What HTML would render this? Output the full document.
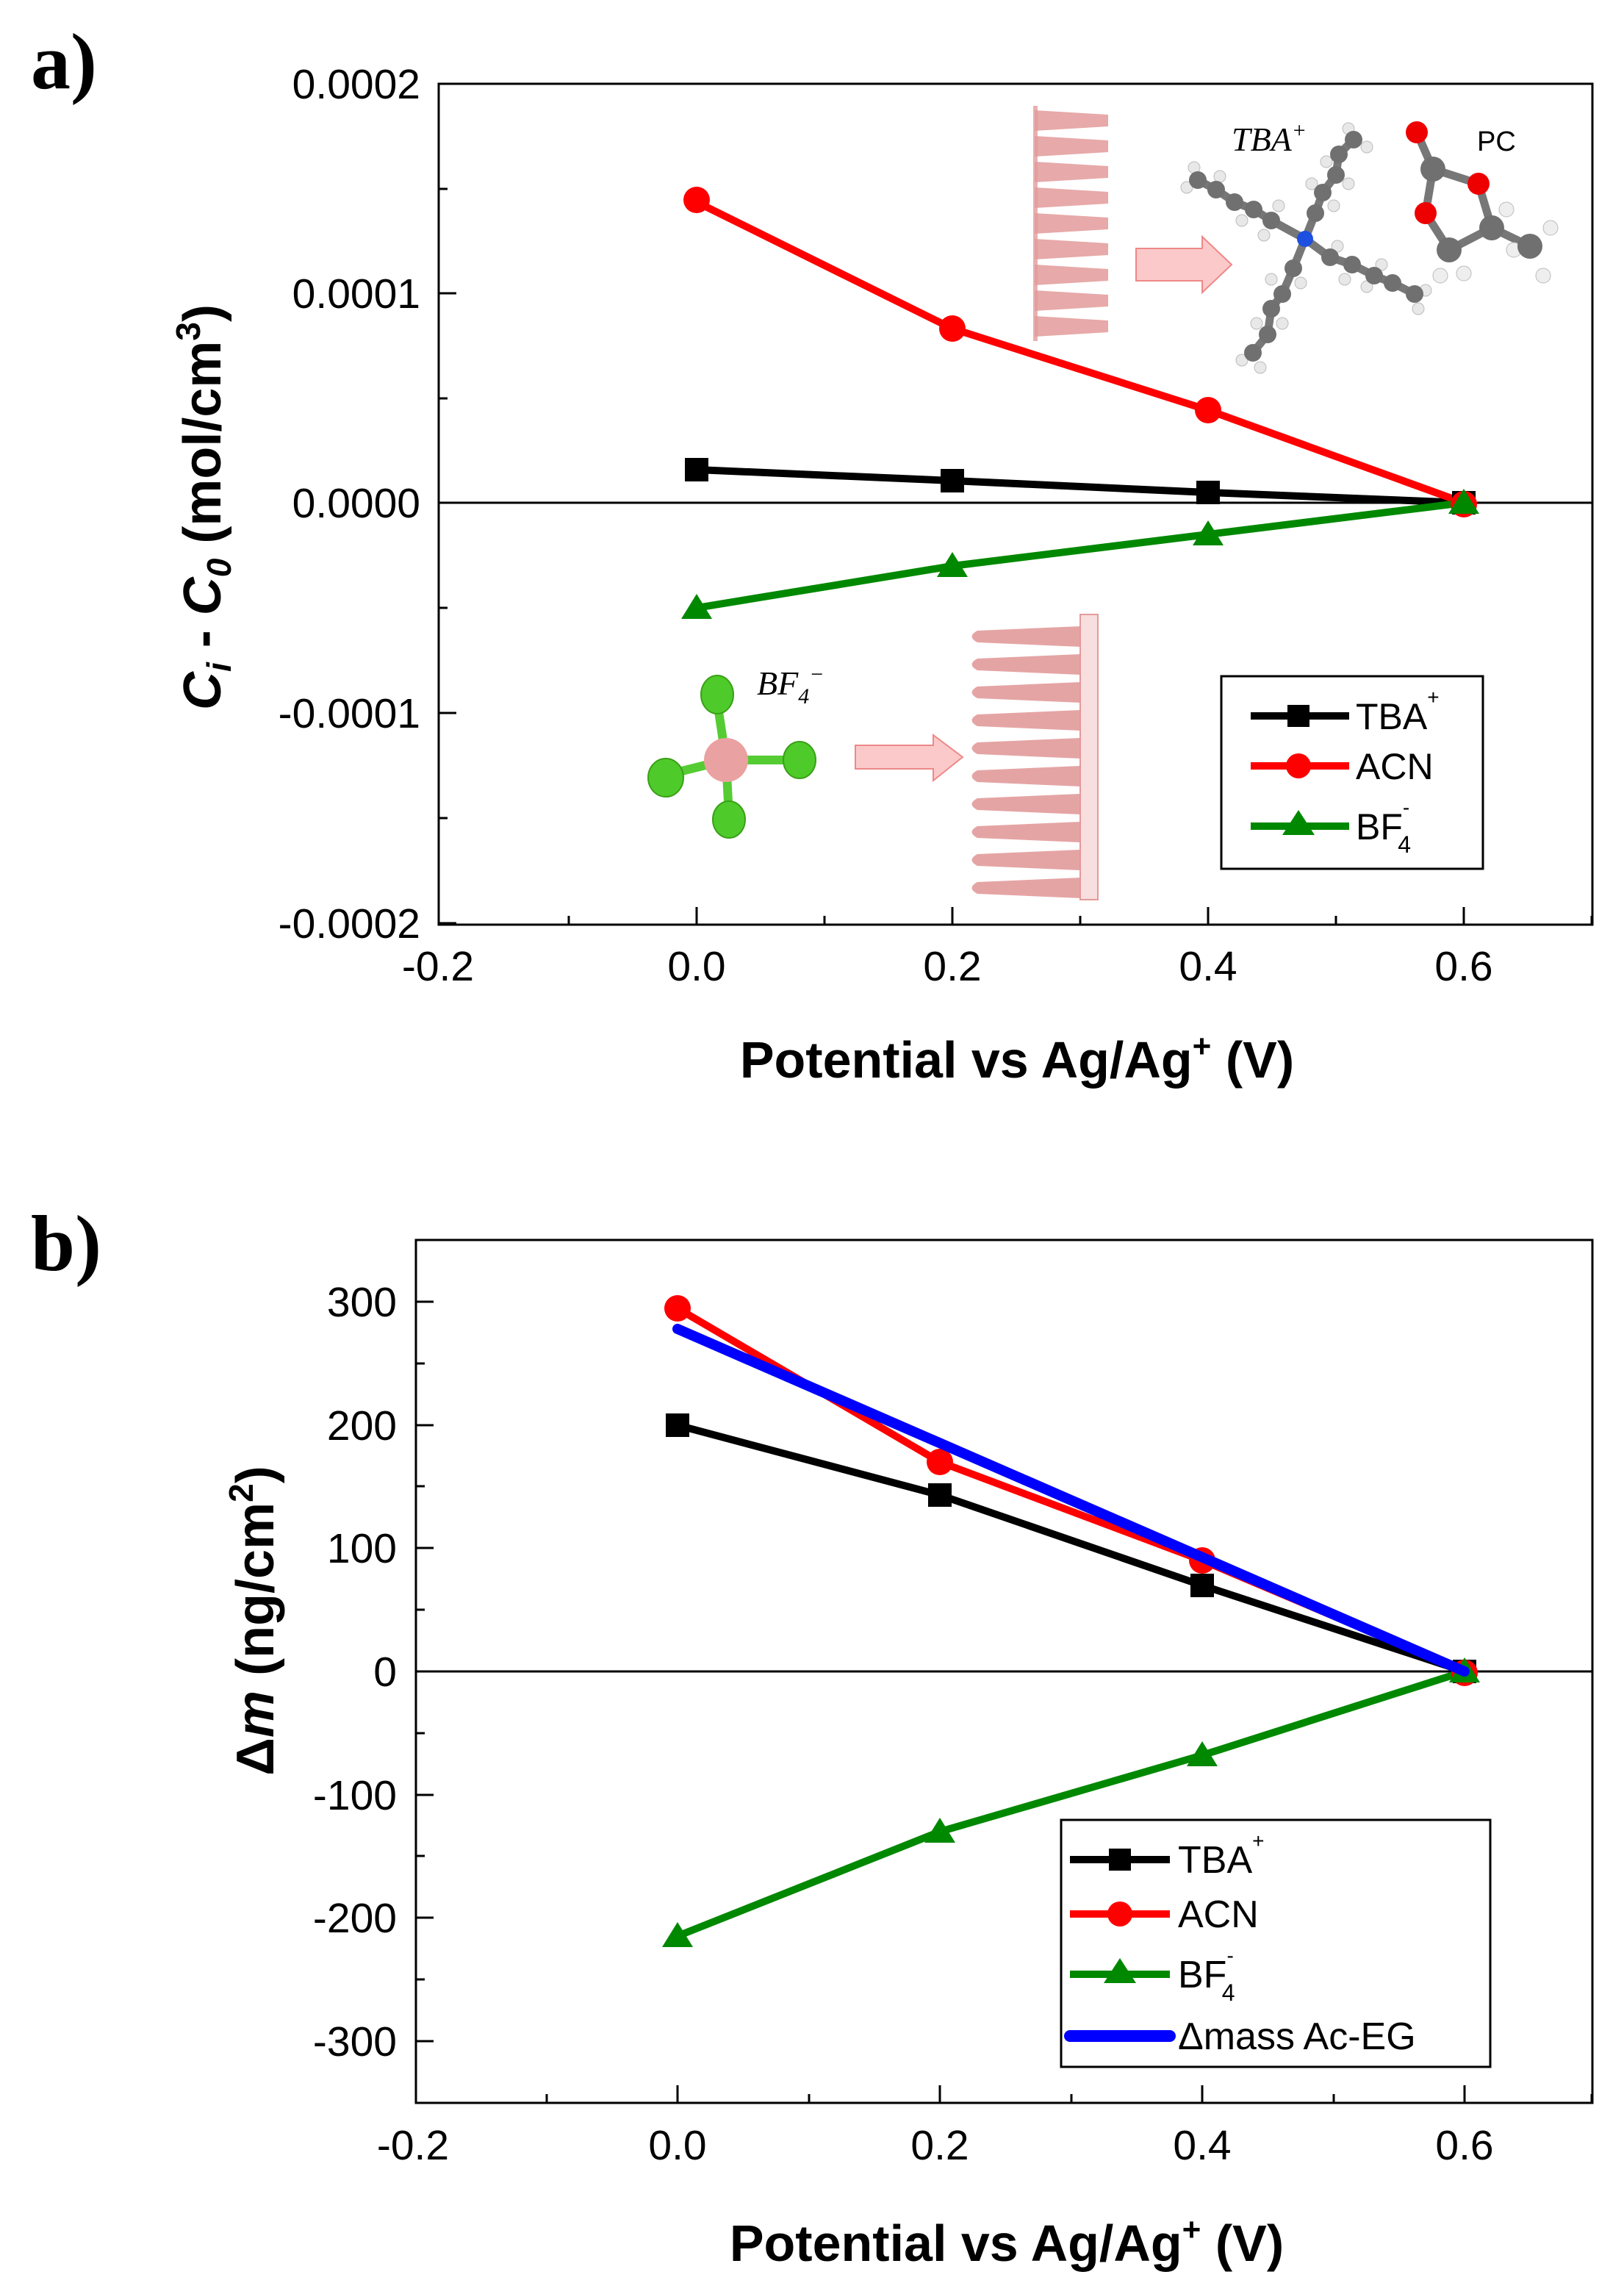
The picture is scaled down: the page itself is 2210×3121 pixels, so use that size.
<!DOCTYPE html>
<html><head><meta charset="utf-8"><style>
html,body{margin:0;padding:0;background:#fff}
svg{display:block}
text{font-family:"Liberation Sans",Arial,sans-serif}
text.serif{font-family:"Liberation Serif","Times New Roman",serif}
</style></head><body>
<svg width="2210" height="3121" viewBox="0 0 2210 3121" xmlns="http://www.w3.org/2000/svg">
<!-- ============ PANEL A ============ -->
<text class="serif" x="42" y="120" font-weight="bold" font-size="108">a)</text>
<rect x="1406" y="144" width="6" height="320" fill="#e9b0b0"/>
<g fill="#e39b9b" opacity="0.85">
  <path d="M1408 150 L1508 156 L1508 172 L1408 178Z"/>
  <path d="M1408 185 L1508 191 L1508 207 L1408 213Z"/>
  <path d="M1408 220 L1508 226 L1508 242 L1408 248Z"/>
  <path d="M1408 255 L1508 261 L1508 277 L1408 283Z"/>
  <path d="M1408 290 L1508 296 L1508 312 L1408 318Z"/>
  <path d="M1408 325 L1508 331 L1508 347 L1408 353Z"/>
  <path d="M1408 360 L1508 366 L1508 382 L1408 388Z"/>
  <path d="M1408 395 L1508 401 L1508 417 L1408 423Z"/>
  <path d="M1408 430 L1508 436 L1508 452 L1408 458Z"/>
</g>
<path d="M1546 338 L1636 338 L1636 322 L1676 360 L1636 398 L1636 382 L1546 382Z" fill="#fbc9c9" stroke="#e88" stroke-width="2"/>
<text class="serif" x="1676" y="205" font-style="italic" font-size="46">TBA<tspan font-size="30" dy="-18">+</tspan></text>
<text x="2010" y="205" font-size="38">PC</text>
<!-- TBA molecule -->
<g stroke="#777" stroke-width="11" fill="none" stroke-linecap="round">
  <polyline points="1776,325 1730,300 1706,285 1680,275 1655,258 1630,245"/>
  <polyline points="1776,325 1790,290 1800,262 1818,238 1822,210 1842,190"/>
  <polyline points="1776,325 1810,350 1840,360 1870,375 1895,385 1925,400"/>
  <polyline points="1776,325 1760,365 1745,400 1730,420 1725,455 1705,480"/>
</g>
<g fill="#e8e8e8" stroke="#bbb" stroke-width="1">
  <circle cx="1625" cy="228" r="8"/><circle cx="1615" cy="255" r="8"/><circle cx="1660" cy="240" r="8"/><circle cx="1690" cy="300" r="8"/><circle cx="1720" cy="320" r="8"/><circle cx="1740" cy="280" r="8"/>
  <circle cx="1835" cy="175" r="8"/><circle cx="1860" cy="200" r="8"/><circle cx="1805" cy="220" r="8"/><circle cx="1835" cy="250" r="8"/><circle cx="1785" cy="250" r="8"/><circle cx="1815" cy="280" r="8"/>
  <circle cx="1940" cy="395" r="8"/><circle cx="1930" cy="420" r="8"/><circle cx="1880" cy="360" r="8"/><circle cx="1860" cy="390" r="8"/><circle cx="1830" cy="380" r="8"/><circle cx="1820" cy="335" r="8"/>
  <circle cx="1690" cy="490" r="8"/><circle cx="1715" cy="500" r="8"/><circle cx="1710" cy="440" r="8"/><circle cx="1745" cy="440" r="8"/><circle cx="1770" cy="385" r="8"/><circle cx="1730" cy="380" r="8"/>
</g>
<g fill="#707070">
  <circle cx="1730" cy="300" r="12"/><circle cx="1706" cy="285" r="12"/><circle cx="1680" cy="275" r="12"/><circle cx="1655" cy="258" r="12"/><circle cx="1630" cy="245" r="12"/>
  <circle cx="1790" cy="290" r="12"/><circle cx="1800" cy="262" r="12"/><circle cx="1818" cy="238" r="12"/><circle cx="1822" cy="210" r="12"/><circle cx="1842" cy="190" r="12"/>
  <circle cx="1810" cy="350" r="12"/><circle cx="1840" cy="360" r="12"/><circle cx="1870" cy="375" r="12"/><circle cx="1895" cy="385" r="12"/><circle cx="1925" cy="400" r="12"/>
  <circle cx="1760" cy="365" r="12"/><circle cx="1745" cy="400" r="12"/><circle cx="1730" cy="420" r="12"/><circle cx="1725" cy="455" r="12"/><circle cx="1705" cy="480" r="12"/>
</g>
<circle cx="1776" cy="325" r="11" fill="#1d4fe0"/>
<!-- PC -->
<g stroke="#777" stroke-width="11" fill="none">
  <line x1="1928" y1="180" x2="1950" y2="230"/><line x1="1950" y1="230" x2="2012" y2="250"/><line x1="1950" y1="230" x2="1940" y2="290"/>
  <line x1="2012" y1="250" x2="2030" y2="310"/><line x1="1940" y1="290" x2="1972" y2="340"/><line x1="1972" y1="340" x2="2030" y2="310"/><line x1="2030" y1="310" x2="2082" y2="335"/>
</g>
<g fill="#eee" stroke="#bbb"><circle cx="1960" cy="375" r="10"/><circle cx="1992" cy="372" r="10"/><circle cx="2050" cy="285" r="10"/><circle cx="2110" cy="310" r="10"/><circle cx="2100" cy="375" r="10"/><circle cx="2060" cy="340" r="10"/></g>
<g fill="#707070"><circle cx="1950" cy="230" r="17"/><circle cx="1972" cy="340" r="17"/><circle cx="2030" cy="310" r="17"/><circle cx="2082" cy="335" r="17"/></g>
<g fill="#e00"><circle cx="1928" cy="180" r="15"/><circle cx="2012" cy="250" r="15"/><circle cx="1940" cy="290" r="15"/></g>
<!-- BF4 bottom -->
<text class="serif" x="1030" y="945" font-style="italic" font-size="46">BF<tspan font-size="30" dy="12">4</tspan><tspan font-size="30" dy="-30">−</tspan></text>
<g stroke="#55cc33" stroke-width="12"><line x1="976" y1="955" x2="988" y2="1034"/><line x1="908" y1="1054" x2="988" y2="1034"/><line x1="1088" y1="1034" x2="988" y2="1034"/><line x1="992" y1="1110" x2="988" y2="1034"/></g>
<circle cx="988" cy="1034" r="30" fill="#eaa1a1"/>
<g fill="#4ecb2a" stroke="#3aa018" stroke-width="2"><ellipse cx="976" cy="945" rx="22" ry="26"/><ellipse cx="906" cy="1058" rx="24" ry="26"/><ellipse cx="1088" cy="1034" rx="22" ry="25"/><ellipse cx="992" cy="1115" rx="22" ry="25"/></g>
<path d="M1164 1014 L1270 1014 L1270 1000 L1310 1030 L1270 1062 L1270 1046 L1164 1046Z" fill="#fbc9c9" stroke="#e88" stroke-width="2"/>
<rect x="1470" y="836" width="24" height="388" fill="#f8dede" stroke="#e49a9a" stroke-width="2"/>
<g fill="#e39b9b" opacity="0.9">
  <path d="M1470 852 L1330 858 Q1315 866 1330 874 L1470 880Z"/>
  <path d="M1470 890 L1330 896 Q1315 904 1330 912 L1470 918Z"/>
  <path d="M1470 928 L1330 934 Q1315 942 1330 950 L1470 956Z"/>
  <path d="M1470 966 L1330 972 Q1315 980 1330 988 L1470 994Z"/>
  <path d="M1470 1004 L1330 1010 Q1315 1018 1330 1026 L1470 1032Z"/>
  <path d="M1470 1042 L1330 1048 Q1315 1056 1330 1064 L1470 1070Z"/>
  <path d="M1470 1080 L1330 1086 Q1315 1094 1330 1102 L1470 1108Z"/>
  <path d="M1470 1118 L1330 1124 Q1315 1132 1330 1140 L1470 1146Z"/>
  <path d="M1470 1156 L1330 1162 Q1315 1170 1330 1178 L1470 1184Z"/>
  <path d="M1470 1194 L1330 1200 Q1315 1208 1330 1216 L1470 1222Z"/>
</g>
<!-- axes a -->
<rect x="597" y="114" width="1570" height="1144" fill="none" stroke="#000" stroke-width="3"/>
<line x1="597" y1="684" x2="2167" y2="684" stroke="#000" stroke-width="3"/>
<g stroke="#000" stroke-width="3">
  <line x1="597" y1="114" x2="621" y2="114"/><line x1="597" y1="399" x2="621" y2="399"/><line x1="597" y1="970" x2="621" y2="970"/><line x1="597" y1="1256" x2="621" y2="1256"/>
  <line x1="597" y1="257" x2="609" y2="257"/><line x1="597" y1="542" x2="609" y2="542"/><line x1="597" y1="827" x2="609" y2="827"/><line x1="597" y1="1113" x2="609" y2="1113"/>
  <line x1="948" y1="1258" x2="948" y2="1234"/><line x1="1296" y1="1258" x2="1296" y2="1234"/><line x1="1644" y1="1258" x2="1644" y2="1234"/><line x1="1992" y1="1258" x2="1992" y2="1234"/>
  <line x1="774" y1="1258" x2="774" y2="1246"/><line x1="1122" y1="1258" x2="1122" y2="1246"/><line x1="1470" y1="1258" x2="1470" y2="1246"/><line x1="1818" y1="1258" x2="1818" y2="1246"/><line x1="2166" y1="1258" x2="2166" y2="1246"/>
</g>
<g font-size="57" text-anchor="end">
  <text x="572" y="134">0.0002</text><text x="572" y="419">0.0001</text><text x="572" y="704">0.0000</text><text x="572" y="990">-0.0001</text><text x="572" y="1276">-0.0002</text>
</g>
<g font-size="57" text-anchor="middle">
  <text x="596" y="1334">-0.2</text><text x="948" y="1334">0.0</text><text x="1296" y="1334">0.2</text><text x="1644" y="1334">0.4</text><text x="1992" y="1334">0.6</text>
</g>
<text x="1384" y="1466" font-size="70" font-weight="bold" text-anchor="middle">Potential vs Ag/Ag<tspan font-size="44" dy="-28">+</tspan><tspan dy="28"> (V)</tspan></text>
<text transform="translate(300,690) rotate(-90)" font-size="72" font-weight="bold" text-anchor="middle"><tspan font-style="italic">C</tspan><tspan font-style="italic" font-size="46" dy="14">i</tspan><tspan dy="-14"> - </tspan><tspan font-style="italic">C</tspan><tspan font-style="italic" font-size="46" dy="14">0</tspan><tspan dy="-14"> (mol/cm</tspan><tspan font-size="46" dy="-28">3</tspan><tspan dy="28">)</tspan></text>
<!-- series a -->
<polyline points="948,639 1296,654 1644,670 1992,684" fill="none" stroke="#000" stroke-width="10"/>
<polyline points="948,275 1296,447 1644,558 1992,684" fill="none" stroke="#f00" stroke-width="10"/>
<polyline points="948,827 1296,770 1644,727 1992,684" fill="none" stroke="#080" stroke-width="10"/>
<g fill="#000"><rect x="932" y="623" width="32" height="32"/><rect x="1280" y="638" width="32" height="32"/><rect x="1628" y="654" width="32" height="32"/><rect x="1976" y="668" width="32" height="32"/></g>
<g fill="#f00"><circle cx="948" cy="272" r="18"/><circle cx="1296" cy="447" r="18"/><circle cx="1644" cy="558" r="18"/><circle cx="1992" cy="686" r="18"/></g>
<g fill="#080"><path d="M948 808 L969 842 L927 842Z"/><path d="M1296 751 L1317 785 L1275 785Z"/><path d="M1644 708 L1665 742 L1623 742Z"/><path d="M1992 665 L2013 699 L1971 699Z"/></g>
<!-- legend a -->
<rect x="1662" y="920" width="356" height="262" fill="#fff" stroke="#000" stroke-width="3"/>
<line x1="1702" y1="974" x2="1836" y2="974" stroke="#000" stroke-width="10"/><rect x="1752" y="959" width="30" height="30"/>
<line x1="1702" y1="1042" x2="1836" y2="1042" stroke="#f00" stroke-width="10"/><circle cx="1767" cy="1042" r="17" fill="#f00"/>
<line x1="1702" y1="1124" x2="1836" y2="1124" stroke="#080" stroke-width="10"/><path d="M1767 1102 L1789 1136 L1745 1136Z" fill="#080"/>
<g font-size="50"><text x="1845" y="992">TBA<tspan font-size="28" dy="-34">+</tspan></text><text x="1845" y="1060">ACN</text><text x="1845" y="1142">BF<tspan font-size="28" dy="-34">-</tspan><tspan font-size="32" dx="-16" dy="52">4</tspan></text></g>

<!-- ============ PANEL B ============ -->
<text class="serif" x="42" y="1728" font-weight="bold" font-size="108">b)</text>
<rect x="566" y="1687" width="1601" height="1174" fill="none" stroke="#000" stroke-width="3"/>
<line x1="566" y1="2274" x2="2167" y2="2274" stroke="#000" stroke-width="3"/>
<g stroke="#000" stroke-width="3">
  <line x1="566" y1="1771" x2="590" y2="1771"/><line x1="566" y1="1939" x2="590" y2="1939"/><line x1="566" y1="2106" x2="590" y2="2106"/><line x1="566" y1="2442" x2="590" y2="2442"/><line x1="566" y1="2609" x2="590" y2="2609"/><line x1="566" y1="2777" x2="590" y2="2777"/>
  <line x1="566" y1="1855" x2="578" y2="1855"/><line x1="566" y1="2022" x2="578" y2="2022"/><line x1="566" y1="2190" x2="578" y2="2190"/><line x1="566" y1="2358" x2="578" y2="2358"/><line x1="566" y1="2525" x2="578" y2="2525"/><line x1="566" y1="2693" x2="578" y2="2693"/>
  <line x1="922" y1="2861" x2="922" y2="2837"/><line x1="1279" y1="2861" x2="1279" y2="2837"/><line x1="1636" y1="2861" x2="1636" y2="2837"/><line x1="1993" y1="2861" x2="1993" y2="2837"/>
  <line x1="744" y1="2861" x2="744" y2="2849"/><line x1="1101" y1="2861" x2="1101" y2="2849"/><line x1="1458" y1="2861" x2="1458" y2="2849"/><line x1="1815" y1="2861" x2="1815" y2="2849"/><line x1="2166" y1="2861" x2="2166" y2="2849"/>
</g>
<g font-size="57" text-anchor="end">
  <text x="540" y="1791">300</text><text x="540" y="1959">200</text><text x="540" y="2126">100</text><text x="540" y="2294">0</text><text x="540" y="2462">-100</text><text x="540" y="2629">-200</text><text x="540" y="2797">-300</text>
</g>
<g font-size="57" text-anchor="middle">
  <text x="562" y="2938">-0.2</text><text x="922" y="2938">0.0</text><text x="1279" y="2938">0.2</text><text x="1636" y="2938">0.4</text><text x="1993" y="2938">0.6</text>
</g>
<text x="1370" y="3076" font-size="70" font-weight="bold" text-anchor="middle">Potential vs Ag/Ag<tspan font-size="44" dy="-28">+</tspan><tspan dy="28"> (V)</tspan></text>
<text transform="translate(372,2205) rotate(-90)" font-size="72" font-weight="bold" text-anchor="middle">Δ<tspan font-style="italic">m</tspan> (ng/cm<tspan font-size="46" dy="-28">2</tspan><tspan dy="28">)</tspan></text>
<!-- series b -->
<polyline points="922,1939 1279,2034 1636,2157 1993,2274" fill="none" stroke="#000" stroke-width="10"/>
<polyline points="922,1780 1279,1989 1636,2123 1993,2274" fill="none" stroke="#f00" stroke-width="10"/>
<polyline points="922,2634 1279,2492 1636,2388 1993,2274" fill="none" stroke="#080" stroke-width="10"/>
<g fill="#000"><rect x="906" y="1923" width="32" height="32"/><rect x="1263" y="2018" width="32" height="32"/><rect x="1620" y="2141" width="32" height="32"/><rect x="1977" y="2258" width="32" height="32"/></g>
<g fill="#f00"><circle cx="922" cy="1780" r="18"/><circle cx="1279" cy="1989" r="18"/><circle cx="1636" cy="2123" r="18"/><circle cx="1993" cy="2276" r="18"/></g>
<g fill="#080"><path d="M922 2615 L943 2649 L901 2649Z"/><path d="M1279 2473 L1300 2507 L1258 2507Z"/><path d="M1636 2369 L1657 2403 L1615 2403Z"/><path d="M1993 2255 L2014 2289 L1972 2289Z"/></g>
<line x1="922" y1="1808" x2="1993" y2="2274" stroke="#00f" stroke-width="14" stroke-linecap="round"/>
<!-- legend b -->
<rect x="1444" y="2476" width="584" height="336" fill="#fff" stroke="#000" stroke-width="3"/>
<line x1="1456" y1="2530" x2="1592" y2="2530" stroke="#000" stroke-width="10"/><rect x="1509" y="2515" width="30" height="30"/>
<line x1="1456" y1="2604" x2="1592" y2="2604" stroke="#f00" stroke-width="10"/><circle cx="1524" cy="2604" r="17" fill="#f00"/>
<line x1="1456" y1="2686" x2="1592" y2="2686" stroke="#080" stroke-width="10"/><path d="M1524 2664 L1546 2698 L1502 2698Z" fill="#080"/>
<line x1="1456" y1="2770" x2="1592" y2="2770" stroke="#00f" stroke-width="16" stroke-linecap="round"/>
<g font-size="52"><text x="1603" y="2548">TBA<tspan font-size="28" dy="-34">+</tspan></text><text x="1603" y="2622">ACN</text><text x="1603" y="2704">BF<tspan font-size="28" dy="-34">-</tspan><tspan font-size="32" dx="-16" dy="52">4</tspan></text><text x="1603" y="2788">Δmass Ac-EG</text></g>
</svg>
</body></html>
